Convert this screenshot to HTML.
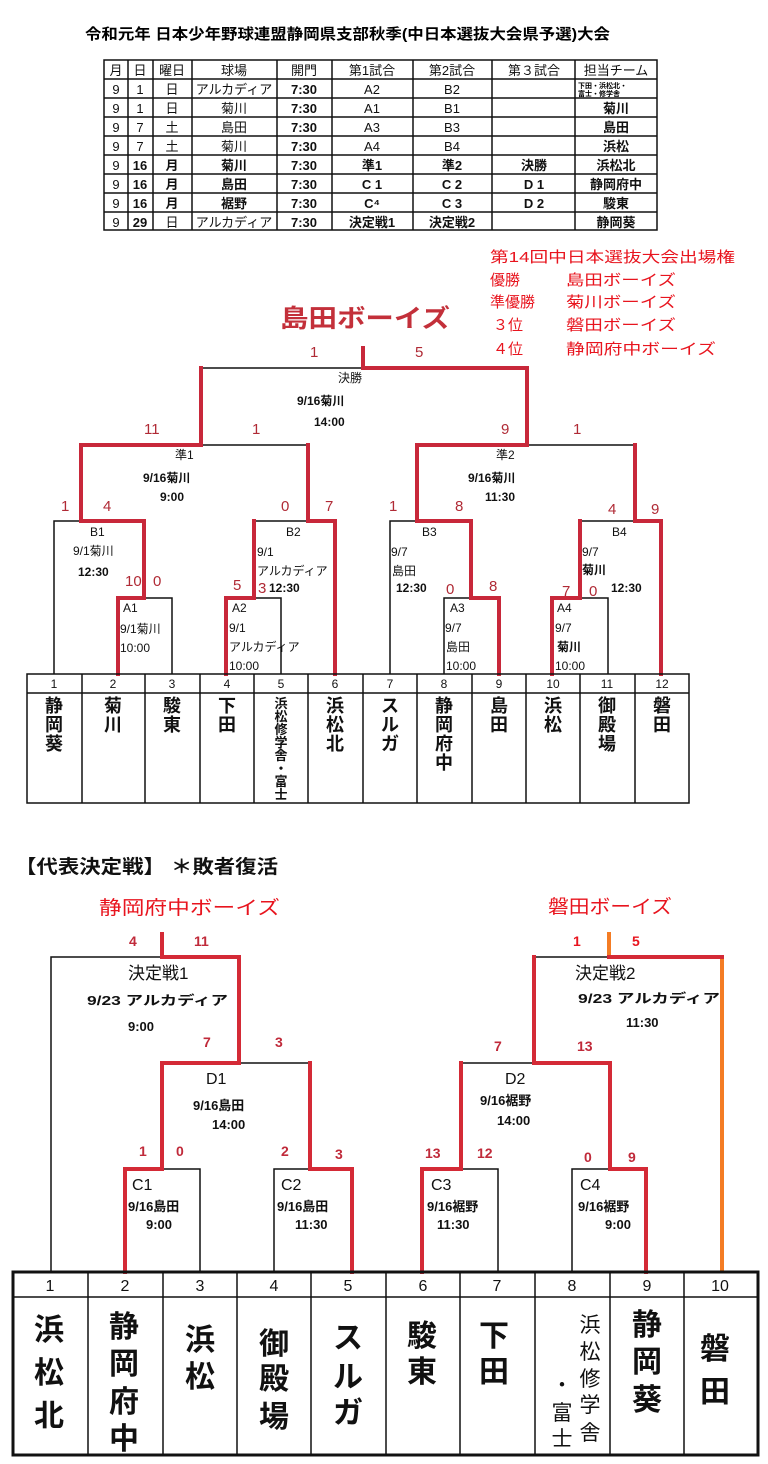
<!DOCTYPE html>
<html><head><meta charset="utf-8">
<style>
html,body{margin:0;padding:0;background:#fff;}
svg{display:block;}
text{font-family:"Liberation Sans","Noto Sans CJK JP",sans-serif;}
.b{font-weight:bold;}
.c{text-anchor:middle;}
.blk{stroke:#111;stroke-width:1.5;fill:none;}
.red{stroke:#c8283a;stroke-width:4;fill:none;stroke-linecap:square;}
.bred{stroke:#d42a36;stroke-width:4;fill:none;stroke-linecap:square;}
.org{stroke:#f47c24;stroke-width:4;fill:none;}
.sc{fill:#b02a35;font-size:15px;}
.sc2{fill:#c02a3a;font-size:14px;font-weight:bold;}
.lb{fill:#111;font-size:12px;}
.lb2{fill:#111;font-size:13px;font-weight:bold;}
.tn{font-size:18px;font-weight:bold;fill:#111;text-anchor:middle;}
.bn{font-size:30px;font-weight:bold;fill:#111;text-anchor:middle;}
.st{font-size:13px;fill:#111;text-anchor:middle;}
</style></head>
<body>
<svg width="768" height="1464" viewBox="0 0 768 1464" xmlns="http://www.w3.org/2000/svg">
<rect width="768" height="1464" fill="#fff"/>

<!-- Title -->
<text x="85" y="39" class="b" font-size="15" textLength="525" lengthAdjust="spacingAndGlyphs">令和元年 日本少年野球連盟静岡県支部秋季(中日本選抜大会県予選)大会</text>

<!-- Schedule table -->
<g class="blk" stroke-width="1.3">
<rect x="104" y="60" width="553" height="170"/>
<line x1="104" y1="79" x2="657" y2="79"/>
<line x1="104" y1="98" x2="657" y2="98"/>
<line x1="104" y1="117" x2="657" y2="117"/>
<line x1="104" y1="136" x2="657" y2="136"/>
<line x1="104" y1="155" x2="657" y2="155"/>
<line x1="104" y1="174" x2="657" y2="174"/>
<line x1="104" y1="193" x2="657" y2="193"/>
<line x1="104" y1="212" x2="657" y2="212"/>
<line x1="128" y1="60" x2="128" y2="230"/>
<line x1="153" y1="60" x2="153" y2="230"/>
<line x1="192" y1="60" x2="192" y2="230"/>
<line x1="277" y1="60" x2="277" y2="230"/>
<line x1="332" y1="60" x2="332" y2="230"/>
<line x1="413" y1="60" x2="413" y2="230"/>
<line x1="492" y1="60" x2="492" y2="230"/>
<line x1="575" y1="60" x2="575" y2="230"/>
</g>
<g class="st">
<text x="116" y="75">月</text><text x="140" y="75">日</text><text x="172" y="75">曜日</text><text x="234" y="75">球場</text><text x="304" y="75">開門</text><text x="372" y="75">第1試合</text><text x="452" y="75">第2試合</text><text x="534" y="75">第３試合</text><text x="616" y="75">担当チーム</text>
<text x="116" y="94">9</text><text x="140" y="94">1</text><text x="172" y="94">日</text><text x="234" y="94">アルカディア</text><text x="304" y="94" class="b">7:30</text><text x="372" y="94">A2</text><text x="452" y="94">B2</text>
<text x="116" y="113">9</text><text x="140" y="113">1</text><text x="172" y="113">日</text><text x="234" y="113">菊川</text><text x="304" y="113" class="b">7:30</text><text x="372" y="113">A1</text><text x="452" y="113">B1</text><text x="616" y="113" class="b">菊川</text>
<text x="116" y="132">9</text><text x="140" y="132">7</text><text x="172" y="132">土</text><text x="234" y="132">島田</text><text x="304" y="132" class="b">7:30</text><text x="372" y="132">A3</text><text x="452" y="132">B3</text><text x="616" y="132" class="b">島田</text>
<text x="116" y="151">9</text><text x="140" y="151">7</text><text x="172" y="151">土</text><text x="234" y="151">菊川</text><text x="304" y="151" class="b">7:30</text><text x="372" y="151">A4</text><text x="452" y="151">B4</text><text x="616" y="151" class="b">浜松</text>
<text x="116" y="170">9</text><text x="140" y="170" class="b">16</text><text x="172" y="170" class="b">月</text><text x="234" y="170" class="b">菊川</text><text x="304" y="170" class="b">7:30</text><text x="372" y="170" class="b">準1</text><text x="452" y="170" class="b">準2</text><text x="534" y="170" class="b">決勝</text><text x="616" y="170" class="b">浜松北</text>
<text x="116" y="189">9</text><text x="140" y="189" class="b">16</text><text x="172" y="189" class="b">月</text><text x="234" y="189" class="b">島田</text><text x="304" y="189" class="b">7:30</text><text x="372" y="189" class="b">C 1</text><text x="452" y="189" class="b">C 2</text><text x="534" y="189" class="b">D 1</text><text x="616" y="189" class="b">静岡府中</text>
<text x="116" y="208">9</text><text x="140" y="208" class="b">16</text><text x="172" y="208" class="b">月</text><text x="234" y="208" class="b">裾野</text><text x="304" y="208" class="b">7:30</text><text x="372" y="208" class="b">C⁴</text><text x="452" y="208" class="b">C 3</text><text x="534" y="208" class="b">D 2</text><text x="616" y="208" class="b">駿東</text>
<text x="116" y="227">9</text><text x="140" y="227" class="b">29</text><text x="172" y="227">日</text><text x="234" y="227">アルカディア</text><text x="304" y="227" class="b">7:30</text><text x="372" y="227" class="b">決定戦1</text><text x="452" y="227" class="b">決定戦2</text><text x="616" y="227" class="b">静岡葵</text>
</g>
<text x="578" y="88" font-size="7" class="b">下田・浜松北・</text>
<text x="578" y="96" font-size="7" class="b">富士・修学舎</text>

<!-- legend -->
<g fill="#e8141e" font-size="15">
<text x="490" y="262" textLength="245" lengthAdjust="spacingAndGlyphs">第14回中日本選抜大会出場権</text>
<text x="490" y="285">優勝</text><text x="566" y="285" textLength="110" lengthAdjust="spacingAndGlyphs">島田ボーイズ</text>
<text x="490" y="307">準優勝</text><text x="566" y="307" textLength="110" lengthAdjust="spacingAndGlyphs">菊川ボーイズ</text>
<text x="493" y="330">３位</text><text x="566" y="330" textLength="110" lengthAdjust="spacingAndGlyphs">磐田ボーイズ</text>
<text x="493" y="354">４位</text><text x="566" y="354" textLength="150" lengthAdjust="spacingAndGlyphs">静岡府中ボーイズ</text>
</g>
<text x="280" y="327" font-size="25" class="b" fill="#c3303a" textLength="170" lengthAdjust="spacingAndGlyphs">島田ボーイズ</text>

<!-- TOP BRACKET lines -->
<g class="blk">
<line x1="201" y1="368" x2="363" y2="368"/>
<line x1="201" y1="445" x2="308" y2="445"/>
<line x1="526" y1="445" x2="635" y2="445"/>
<polyline points="81,521 54,521 54,674"/>
<polyline points="144,598 172,598 172,674"/>
<line x1="254" y1="521" x2="308" y2="521"/>
<polyline points="254,598 281,598 281,674"/>
<polyline points="417,521 390,521 390,674"/>
<polyline points="471,598 444,598 444,674"/>
<line x1="580" y1="521" x2="635" y2="521"/>
<polyline points="580,598 608,598 608,674"/>
</g>
<g class="red">
<polyline points="363,348 363,368 527,368 527,445"/>
<line x1="201" y1="368" x2="201" y2="445"/>
<polyline points="81,521 81,445 201,445"/>
<polyline points="81,521 144,521 144,598 118,598 118,674"/>
<polyline points="308,445 308,521 335,521 335,674"/>
<polyline points="254,521 254,598 226,598 226,674"/>
<polyline points="417,521 417,445 526,445"/>
<polyline points="417,521 471,521 471,598 499,598 499,674"/>
<polyline points="635,445 635,521 661,521 661,674"/>
<polyline points="580,521 580,598 552,598 552,674"/>
</g>
<!-- top scores -->
<g class="sc">
<text x="310" y="357">1</text><text x="415" y="357">5</text>
<text x="144" y="434">11</text><text x="252" y="434">1</text>
<text x="501" y="434">9</text><text x="573" y="434">1</text>
<text x="61" y="511">1</text><text x="103" y="511">4</text><text x="125" y="586">10</text><text x="153" y="586">0</text>
<text x="281" y="511">0</text><text x="325" y="511">7</text><text x="233" y="590">5</text><text x="258" y="593">3</text>
<text x="389" y="511">1</text><text x="455" y="511">8</text><text x="446" y="594">0</text><text x="489" y="591">8</text>
<text x="608" y="514">4</text><text x="651" y="514">9</text><text x="562" y="596">7</text><text x="589" y="596">0</text>
</g>
<!-- top labels -->
<g class="lb">
<text x="338" y="382">決勝</text>
<text x="297" y="405" class="b">9/16菊川</text><text x="314" y="426" class="b">14:00</text>
<text x="175" y="459">準1</text>
<text x="143" y="482" class="b">9/16菊川</text><text x="160" y="501" class="b">9:00</text>
<text x="496" y="459">準2</text>
<text x="468" y="482" class="b">9/16菊川</text><text x="485" y="501" class="b">11:30</text>
<text x="90" y="536">B1</text><text x="73" y="555">9/1菊川</text><text x="78" y="576" class="b">12:30</text>
<text x="123" y="612">A1</text><text x="120" y="633">9/1菊川</text><text x="120" y="652">10:00</text>
<text x="286" y="536">B2</text><text x="257" y="556">9/1</text><text x="257" y="575">アルカディア</text><text x="269" y="592" class="b">12:30</text>
<text x="232" y="612">A2</text><text x="229" y="632">9/1</text><text x="229" y="651">アルカディア</text><text x="229" y="670">10:00</text>
<text x="422" y="536">B3</text><text x="391" y="556">9/7</text><text x="392" y="575">島田</text><text x="396" y="592" class="b">12:30</text>
<text x="450" y="612">A3</text><text x="445" y="632">9/7</text><text x="446" y="651">島田</text><text x="446" y="670">10:00</text>
<text x="612" y="536">B4</text><text x="582" y="556">9/7</text><text x="582" y="574" class="b">菊川</text><text x="611" y="592" class="b">12:30</text>
<text x="557" y="612">A4</text><text x="555" y="632">9/7</text><text x="557" y="651" class="b">菊川</text><text x="555" y="670">10:00</text>
</g>

<!-- top team table -->
<g class="blk" stroke-width="1.5">
<rect x="27" y="674" width="662" height="129"/>
<line x1="27" y1="693" x2="689" y2="693"/>
<line x1="82" y1="674" x2="82" y2="803"/><line x1="145" y1="674" x2="145" y2="803"/>
<line x1="200" y1="674" x2="200" y2="803"/><line x1="254" y1="674" x2="254" y2="803"/>
<line x1="308" y1="674" x2="308" y2="803"/><line x1="363" y1="674" x2="363" y2="803"/>
<line x1="417" y1="674" x2="417" y2="803"/><line x1="472" y1="674" x2="472" y2="803"/>
<line x1="526" y1="674" x2="526" y2="803"/><line x1="580" y1="674" x2="580" y2="803"/>
<line x1="635" y1="674" x2="635" y2="803"/>
</g>
<g font-size="12" fill="#111" class="c">
<text x="54" y="688">1</text><text x="113" y="688">2</text><text x="172" y="688">3</text><text x="227" y="688">4</text><text x="281" y="688">5</text><text x="335" y="688">6</text><text x="390" y="688">7</text><text x="444" y="688">8</text><text x="499" y="688">9</text><text x="553" y="688">10</text><text x="607" y="688">11</text><text x="662" y="688">12</text>
</g>
<g class="tn">
<text x="54" y="712">静</text><text x="54" y="731">岡</text><text x="54" y="750">葵</text>
<text x="113" y="712">菊</text><text x="113" y="731">川</text>
<text x="172" y="712">駿</text><text x="172" y="731">東</text>
<text x="227" y="712">下</text><text x="227" y="731">田</text>
<text x="335" y="712">浜</text><text x="335" y="731">松</text><text x="335" y="750">北</text>
<text x="390" y="712">ス</text><text x="390" y="731">ル</text><text x="390" y="750">ガ</text>
<text x="444" y="712">静</text><text x="444" y="731">岡</text><text x="444" y="750">府</text><text x="444" y="769">中</text>
<text x="499" y="712">島</text><text x="499" y="731">田</text>
<text x="553" y="712">浜</text><text x="553" y="731">松</text>
<text x="607" y="712">御</text><text x="607" y="731">殿</text><text x="607" y="750">場</text>
<text x="662" y="712">磐</text><text x="662" y="731">田</text>
</g>
<g font-size="13" font-weight="bold" fill="#111" class="c">
<text x="281" y="708">浜</text><text x="281" y="721">松</text><text x="281" y="734">修</text><text x="281" y="747">学</text><text x="281" y="760">舎</text><text x="281" y="773">・</text><text x="281" y="786">富</text><text x="281" y="799">士</text>
</g>

<!-- Section title -->
<text x="15" y="873" font-size="19" class="b" fill="#111" textLength="263" lengthAdjust="spacingAndGlyphs">【代表決定戦】 ＊敗者復活</text>

<!-- BOTTOM BRACKET -->
<text x="99" y="914" font-size="19" fill="#e8141e" textLength="181" lengthAdjust="spacingAndGlyphs">静岡府中ボーイズ</text>
<text x="548" y="913" font-size="19" fill="#e8141e" textLength="124" lengthAdjust="spacingAndGlyphs">磐田ボーイズ</text>

<g class="blk" stroke-width="2">
<polyline points="162,957 51,957 51,1272"/>
<line x1="238" y1="1063" x2="310" y2="1063"/>
<polyline points="162,1169 200,1169 200,1272"/>
<polyline points="310,1169 274,1169 274,1272"/>
<line x1="534" y1="957" x2="609" y2="957"/>
<line x1="461" y1="1063" x2="534" y2="1063"/>
<polyline points="461,1169 498,1169 498,1272"/>
<polyline points="610,1169 572,1169 572,1272"/>
</g>
<g class="bred">
<polyline points="162,934 162,957 239,957 239,1063 162,1063 162,1169 125,1169 125,1272"/>
<polyline points="310,1063 310,1169 352,1169 352,1272"/>
<polyline points="609,957 722,957"/>
<polyline points="534,957 534,1063 610,1063 610,1169 646,1169 646,1272"/>
<polyline points="461,1063 461,1169 422,1169 422,1272"/>
</g>
<g class="org">
<line x1="609" y1="932" x2="609" y2="955"/>
<line x1="722" y1="959" x2="722" y2="1272"/>
</g>
<g class="sc2">
<text x="129" y="946">4</text><text x="194" y="946">11</text>
<text x="203" y="1047">7</text><text x="275" y="1047">3</text>
<text x="139" y="1156">1</text><text x="176" y="1156">0</text><text x="281" y="1156">2</text><text x="335" y="1159">3</text>
<text x="573" y="946" fill="#e8141e">1</text><text x="632" y="946" fill="#e8141e">5</text>
<text x="494" y="1051">7</text><text x="577" y="1051">13</text>
<text x="425" y="1158">13</text><text x="477" y="1158">12</text><text x="584" y="1162">0</text><text x="628" y="1162">9</text>
</g>
<g fill="#111">
<text x="128" y="979" font-size="17">決定戦1</text>
<text x="87" y="1005" class="lb2" textLength="141" lengthAdjust="spacingAndGlyphs">9/23 アルカディア</text>
<text x="128" y="1031" class="lb2">9:00</text>
<text x="206" y="1084" font-size="16">D1</text>
<text x="193" y="1110" class="lb2">9/16島田</text>
<text x="212" y="1129" class="lb2">14:00</text>
<text x="132" y="1190" font-size="16">C1</text>
<text x="128" y="1211" class="lb2">9/16島田</text>
<text x="146" y="1229" class="lb2">9:00</text>
<text x="281" y="1190" font-size="16">C2</text>
<text x="277" y="1211" class="lb2">9/16島田</text>
<text x="295" y="1229" class="lb2">11:30</text>

<text x="575" y="979" font-size="17">決定戦2</text>
<text x="578" y="1003" class="lb2" textLength="142" lengthAdjust="spacingAndGlyphs">9/23 アルカディア</text>
<text x="626" y="1027" class="lb2">11:30</text>
<text x="505" y="1084" font-size="16">D2</text>
<text x="480" y="1105" class="lb2">9/16裾野</text>
<text x="497" y="1125" class="lb2">14:00</text>
<text x="431" y="1190" font-size="16">C3</text>
<text x="427" y="1211" class="lb2">9/16裾野</text>
<text x="437" y="1229" class="lb2">11:30</text>
<text x="580" y="1190" font-size="16">C4</text>
<text x="578" y="1211" class="lb2">9/16裾野</text>
<text x="605" y="1229" class="lb2">9:00</text>
</g>

<!-- bottom team table -->
<g class="blk" stroke-width="2">
<rect x="13" y="1272" width="745" height="183" stroke-width="3"/>
<line x1="13" y1="1297" x2="758" y2="1297"/>
<line x1="88" y1="1272" x2="88" y2="1455"/><line x1="163" y1="1272" x2="163" y2="1455"/>
<line x1="237" y1="1272" x2="237" y2="1455"/><line x1="311" y1="1272" x2="311" y2="1455"/>
<line x1="386" y1="1272" x2="386" y2="1455"/><line x1="460" y1="1272" x2="460" y2="1455"/>
<line x1="535" y1="1272" x2="535" y2="1455"/><line x1="610" y1="1272" x2="610" y2="1455"/>
<line x1="684" y1="1272" x2="684" y2="1455"/>
</g>
<g font-size="16" fill="#111" class="c">
<text x="50" y="1291">1</text><text x="125" y="1291">2</text><text x="200" y="1291">3</text><text x="274" y="1291">4</text><text x="348" y="1291">5</text><text x="423" y="1291">6</text><text x="497" y="1291">7</text><text x="572" y="1291">8</text><text x="647" y="1291">9</text><text x="720" y="1291">10</text>
</g>
<g class="bn">
<text x="49" y="1340">浜</text><text x="49" y="1383">松</text><text x="49" y="1426">北</text>
<text x="124" y="1337">静</text><text x="124" y="1374">岡</text><text x="124" y="1412">府</text><text x="124" y="1449">中</text>
<text x="200" y="1350">浜</text><text x="200" y="1387">松</text>
<text x="274" y="1354">御</text><text x="274" y="1389">殿</text><text x="274" y="1427">場</text>
<text x="348" y="1348">ス</text><text x="348" y="1387">ル</text><text x="348" y="1423">ガ</text>
<text x="422" y="1346">駿</text><text x="422" y="1382">東</text>
<text x="494" y="1346">下</text><text x="494" y="1382">田</text>
<text x="647" y="1335">静</text><text x="647" y="1372">岡</text><text x="647" y="1410">葵</text>
<text x="715" y="1359">磐</text><text x="715" y="1402">田</text>
</g>
<g font-size="21" fill="#111" class="c">
<text x="590" y="1332">浜</text><text x="590" y="1359">松</text><text x="590" y="1386">修</text><text x="590" y="1412">学</text><text x="590" y="1440">舎</text>
<text x="562" y="1392">・</text><text x="562" y="1420">富</text><text x="562" y="1446">士</text>
</g>
</svg>
</body></html>
